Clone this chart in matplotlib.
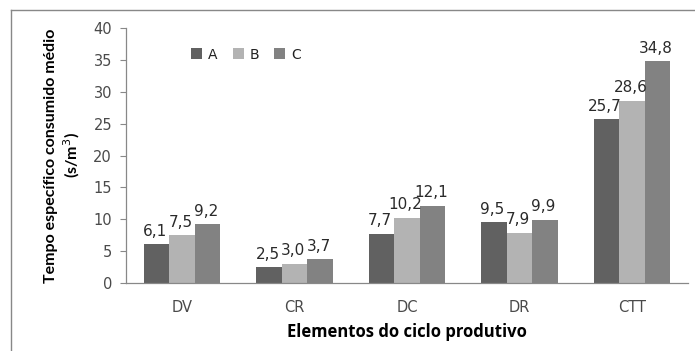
import matplotlib
matplotlib.use("Agg")
import matplotlib.pyplot as plt
import numpy as np
from matplotlib.lines import Line2D

categories = ["DV", "CR", "DC", "DR", "CTT"]
series_names = ["A", "B", "C"]
values_A = [6.1, 2.5, 7.7, 9.5, 25.7]
values_B = [7.5, 3.0, 10.2, 7.9, 28.6]
values_C = [9.2, 3.7, 12.1, 9.9, 34.8]
yticks = [0, 5, 10, 15, 20, 25, 30, 35, 40]

colors = ["#616161", "#b3b3b3", "#828282"]

fig = plt.figure(figsize=(6.95, 3.51), dpi=100)
ax = fig.add_axes([126/695, 1-283/351, (688-126)/695, (283-28)/351])

x = np.arange(len(categories))
w = 0.227
for i, (vals, name, c) in enumerate(zip([values_A, values_B, values_C], series_names, colors)):
    pos = x + (i - 1) * w
    ax.bar(pos, vals, width=w, color=c, label=name, edgecolor='none')
    for p, v in zip(pos, vals):
        ax.annotate(f"{v:.1f}".replace(".", ","), (p, v), xytext=(-1, 4),
                    textcoords="offset points", ha="center", va="bottom",
                    fontsize=11, color="#2a2a2a", family="DejaVu Sans")

ax.set_xlim(-0.5, len(categories) - 0.5)
ax.set_ylim(0, 40)
ax.set_yticks(yticks)
ax.set_yticklabels([str(t) for t in yticks], fontsize=10.5, color="#4a4a4a", family="DejaVu Sans")
ax.set_xticks(x)
ax.set_xticklabels(categories, fontsize=10.5, color="#4a4a4a", family="DejaVu Sans")
ax.tick_params(axis="x", length=0, pad=12)
ax.tick_params(axis="y", length=4, width=0.8, color="#888888", pad=6)
for s in ["top", "right"]:
    ax.spines[s].set_visible(False)
for s in ["left", "bottom"]:
    ax.spines[s].set_color("#888888")
    ax.spines[s].set_linewidth(0.9)

ax.set_ylabel("Tempo específico consumido médio\n(s/m$^3$)", fontsize=11.5, fontweight="bold",
              family="Lato", labelpad=8, linespacing=1.2)
ax.set_xlabel("Elementos do ciclo produtivo", fontsize=12, fontweight="bold",
              family="Open Sans", labelpad=6)

leg = ax.legend(loc="upper left", bbox_to_anchor=(0.106, 0.945), ncol=3, frameon=False,
                fontsize=10, handlelength=0.8, handleheight=0.8, handletextpad=0.4,
                columnspacing=1.1, borderaxespad=0)
for t in leg.get_texts():
    t.set_family("DejaVu Sans")
    t.set_color("#222222")

# outer border lines
fig.add_artist(Line2D([11/695, 1.0], [1-10/351, 1-10/351], transform=fig.transFigure,
                      color="#888888", lw=1))
fig.add_artist(Line2D([11/695, 11/695], [1-10/351, 0], transform=fig.transFigure,
                      color="#888888", lw=1))

fig.savefig("out.png", dpi=100)
